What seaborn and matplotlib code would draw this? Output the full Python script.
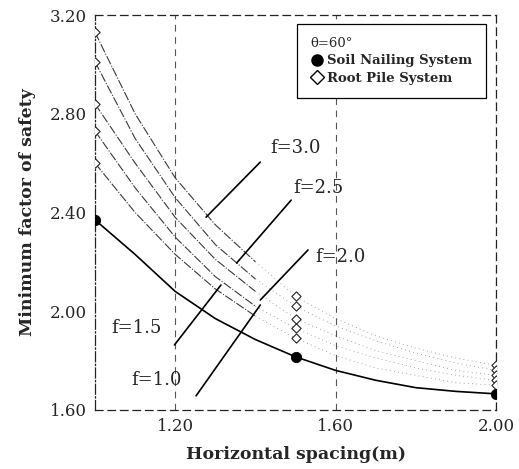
import pandas as pd
import matplotlib
matplotlib.use('Agg')
import matplotlib.pyplot as plt
from matplotlib.lines import Line2D
import seaborn as sns

# values
spacing = [1.0, 1.1, 1.2, 1.3, 1.4, 1.5, 1.6, 1.7, 1.8, 1.9, 2.0]
soil_nailing = [2.37, 2.23, 2.08, 1.97, 1.885, 1.815, 1.76, 1.72, 1.69, 1.675, 1.665]
root_f30 = [3.13, 2.80, 2.54, 2.35, 2.20, 2.06, 1.97, 1.90, 1.85, 1.81, 1.78]
root_f25 = [3.01, 2.70, 2.46, 2.27, 2.13, 2.02, 1.94, 1.88, 1.83, 1.79, 1.76]
root_f20 = [2.84, 2.60, 2.38, 2.21, 2.08, 1.97, 1.90, 1.84, 1.80, 1.76, 1.74]
root_f15 = [2.73, 2.50, 2.30, 2.14, 2.02, 1.93, 1.86, 1.81, 1.77, 1.74, 1.72]
root_f10 = [2.60, 2.40, 2.23, 2.09, 1.98, 1.89, 1.82, 1.77, 1.74, 1.71, 1.70]
root_series = [root_f30, root_f25, root_f20, root_f15, root_f10]
f_labels = ['f=3.0', 'f=2.5', 'f=2.0', 'f=1.5', 'f=1.0']
marked_spacing = [1.0, 1.5, 2.0]
x_ticks = [1.20, 1.60, 2.00]
y_ticks = [1.60, 2.00, 2.40, 2.80, 3.20]

sns.set_style('white')
plt.rcParams['font.family'] = ['DejaVu Serif']

fig = plt.figure(figsize=(5.19, 4.69), dpi=100)
ax = fig.add_axes([0.183, 0.126, 0.773, 0.842])

# root pile curves: drawn line up to 1.4, faint dots beyond
for vals in root_series:
    df = pd.DataFrame({'x': spacing, 'y': vals})
    sns.lineplot(data=df[df.x <= 1.4], x='x', y='y', ax=ax, color='#3a3a3a',
                 lw=0.8, linestyle=(0, (8, 1.5, 1, 1.5)))
    sns.lineplot(data=df[df.x >= 1.4], x='x', y='y', ax=ax, color='#8a8a8a',
                 lw=0.6, linestyle=(0, (1, 4)))
    pts = df[df.x.isin(marked_spacing)]
    sns.scatterplot(data=pts, x='x', y='y', ax=ax, marker='D', s=22,
                    facecolor='white', edgecolor='#222222', linewidth=0.8, zorder=4)

soil = pd.DataFrame({'x': spacing, 'y': soil_nailing})
sns.lineplot(data=soil, x='x', y='y', ax=ax, color='black', lw=1.2)
sns.scatterplot(data=soil[soil.x.isin(marked_spacing)], x='x', y='y', ax=ax,
                marker='o', s=55, color='black', edgecolor='black', zorder=5)

# leader lines with labels
notes = [
    ('f=3.0', (1.50, 2.66), (1.412, 2.604), (1.277, 2.381)),
    ('f=2.5', (1.556, 2.50), (1.489, 2.45), (1.353, 2.195)),
    ('f=2.0', (1.612, 2.22), (1.531, 2.248), (1.412, 2.045)),
    ('f=1.5', (1.104, 1.93), (1.198, 1.863), (1.314, 2.106)),
    ('f=1.0', (1.153, 1.72), (1.252, 1.657), (1.412, 2.025)),
]
for lab, tpos, p0, p1 in notes:
    ax.text(tpos[0], tpos[1], lab, fontsize=13, ha='center', va='center')
    ax.plot([p0[0], p1[0]], [p0[1], p1[1]], color='black', lw=1.2)

ax.set_xlim(1.0, 2.0)
ax.set_ylim(1.6, 3.2)
ax.set_xticks(x_ticks)
ax.set_yticks(y_ticks)
ax.set_xticklabels([f'{t:.2f}' for t in x_ticks], fontsize=12)
ax.set_yticklabels([f'{t:.2f}' for t in y_ticks], fontsize=12)
ax.tick_params(direction='inout', length=5, width=0.8, color='black', pad=3)
ax.set_xlabel('Horizontal spacing(m)', fontsize=12.5, fontweight='bold', labelpad=8)
ax.set_ylabel('Minimum factor of safety', fontsize=12.5, fontweight='bold', labelpad=10)

ax.grid(axis='x', color='#555555', lw=0.8, linestyle=(0, (6, 5)))
for side in ['top', 'bottom', 'right']:
    ax.spines[side].set_linestyle((0, (6, 4)))
    ax.spines[side].set_color('#222222')
    ax.spines[side].set_linewidth(0.9)
ax.spines['left'].set_linestyle((0, (8, 2, 1, 2)))
ax.spines['left'].set_color('#222222')
ax.spines['left'].set_linewidth(0.9)

handles = [
    Line2D([], [], marker='o', color='black', ls='none', markersize=8),
    Line2D([], [], marker='D', markerfacecolor='white', markeredgecolor='black',
           ls='none', markersize=7),
]
leg = ax.legend(handles, ['Soil Nailing System', 'Root Pile System'],
                title='θ=60°', loc='upper right', bbox_to_anchor=(0.99, 0.995),
                frameon=True, fancybox=False, edgecolor='black', framealpha=1,
                prop={'size': 9.5, 'weight': 'bold'}, title_fontsize=9.5,
                handletextpad=0.3, handlelength=1.0, borderpad=1.0, labelspacing=0.35)
leg._legend_box.align = 'left'
leg.get_frame().set_linewidth(0.9)

plt.savefig('out.png', dpi=100)
